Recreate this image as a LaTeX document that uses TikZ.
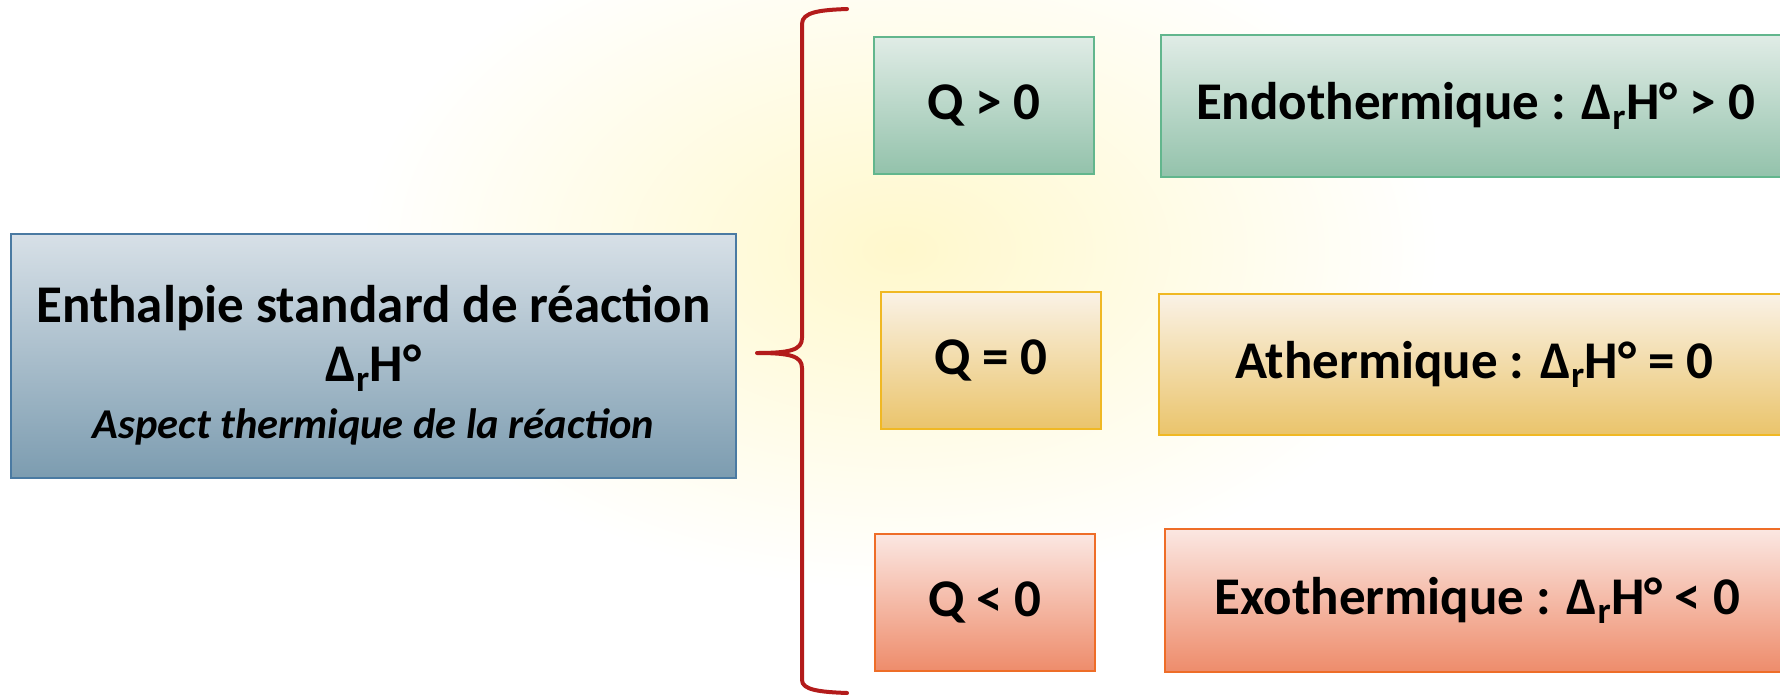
\documentclass[tikz,border=0pt]{standalone}
\usepackage{fontspec}
\setmainfont{Carlito}
\usetikzlibrary{positioning}
\definecolor{bluT}{HTML}{D7E0E7}
\definecolor{bluB}{HTML}{7C9CB0}
\definecolor{bluD}{HTML}{4A7AA2}
\definecolor{grnT}{HTML}{E0ECE6}
\definecolor{grnB}{HTML}{93C2AB}
\definecolor{grnD}{HTML}{62B68D}
\definecolor{yelT}{HTML}{FAF2E6}
\definecolor{yelB}{HTML}{EAC46B}
\definecolor{yelD}{HTML}{F0B823}
\definecolor{redT}{HTML}{FBE7E2}
\definecolor{redB}{HTML}{EE8C6B}
\definecolor{redD}{HTML}{EE6D28}
\definecolor{brc}{HTML}{B31B1B}
\definecolor{wm}{HTML}{FFF8CC}
\newcommand\DrH{Δ\textsubscript{r}H°}
\begin{document}
\begin{tikzpicture}[x=1pt,y=-1pt,
  box/.style={draw, line width=1.5pt, inner sep=0pt, anchor=center, align=center,
    font=\bfseries\fontsize{53}{61}\selectfont, text=black},
  bluebox/.style={box, draw=bluD, top color=bluT, bottom color=bluB},
  greenbox/.style={box, draw=grnD, top color=grnT, bottom color=grnB},
  yellowbox/.style={box, draw=yelD, top color=yelT, bottom color=yelB},
  redbox/.style={box, draw=redD, top color=redT, bottom color=redB},
  qbox/.style={minimum width=220pt, minimum height=137pt},
  maintext/.style={align=center, inner sep=0pt, font=\bfseries\fontsize{53}{61}\selectfont, text=black},
  brace/.style={draw=brc, line width=4pt, line cap=round, line join=round}]
\useasboundingbox (0,0) rectangle (1780,696);
% faint watermark
\shade[inner color=wm, outer color=white] (900,250) ellipse [x radius=540pt, y radius=340pt];
% main box
\node[bluebox, minimum width=725pt, minimum height=244pt] (main) at (373.5,356) {};
\node[maintext] (mainlabel) at ([yshift=-9pt]main.center)
  {Enthalpie standard de réaction\\[-2pt] \DrH\\[-4pt]
   {\itshape\fontsize{42.5}{50}\selectfont Aspect thermique de la réaction}};
% brace
\coordinate (bt) at (847,9);
\coordinate (tip) at (757,353);
\coordinate (bb) at (847,693);
\draw[brace] (bt) .. controls (820,10) and (802,12) .. (802,24) -- (802,338)
  .. controls (802,350) and (790,353) .. (tip)
  .. controls (790,353) and (802,356) .. (802,368) -- (802,680)
  .. controls (802,690) and (820,692) .. (bb);
% Q boxes
\node[greenbox, qbox] (qpos) at (984,105.5) {Q > 0};
\node[yellowbox, qbox] (qzero) at (991,360.5) {Q = 0};
\node[redbox, qbox] (qneg) at (985,602.5) {Q < 0};
% result boxes
\node[greenbox, minimum width=629pt, minimum height=142pt] (endo) at (1475.5,106)
  {Endothermique : \DrH{} > 0};
\node[yellowbox, minimum width=631pt, minimum height=141pt] (ather) at (1474.5,364.5)
  {Athermique : \DrH{} = 0};
\node[redbox, minimum width=625pt, minimum height=143pt] (exo) at (1477.5,600.5)
  {Exothermique : \DrH{} < 0};
\end{tikzpicture}
\end{document}
